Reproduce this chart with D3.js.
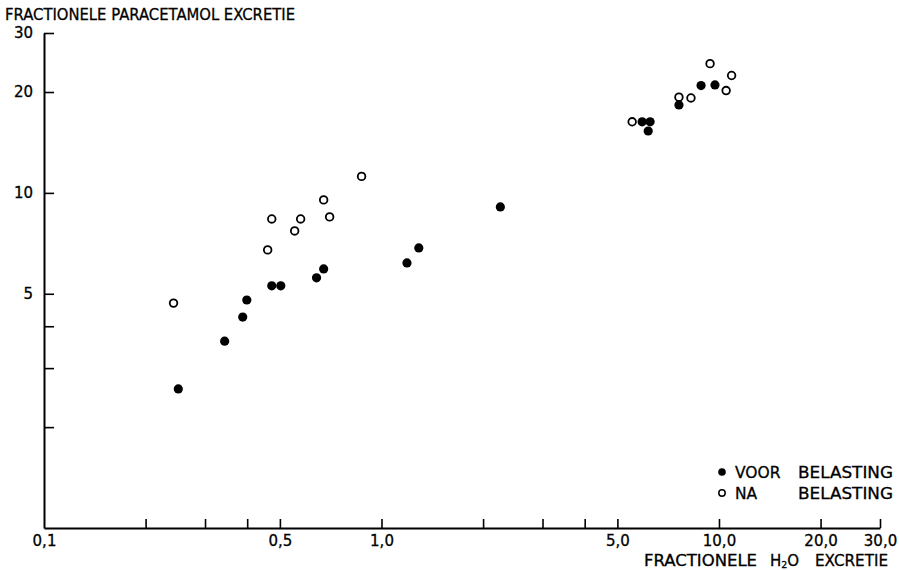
<!DOCTYPE html>
<html>
<head>
<meta charset="utf-8">
<script src="https://cdn.jsdelivr.net/npm/d3@7"></script>
<style>
  html, body { margin: 0; padding: 0; background: #fff; }
  svg { display: block; }
  text { font-family: "DejaVu Sans", "Liberation Sans", sans-serif; fill: #000; stroke: #000; stroke-width: 0.3; }
</style>
</head>
<body>
<svg id="chart" width="899" height="570"></svg>
<script>
// Fractional water excretion (x) vs fractional paracetamol excretion (y)
const voorX = [0.25, 0.343, 0.388, 0.399, 0.473, 0.503, 0.642, 0.674, 1.19, 1.29, 2.25,
               5.92, 6.25, 6.17, 7.61, 8.85, 9.73];
const voorY = [2.60, 3.61, 4.26, 4.79, 5.28, 5.28, 5.58, 5.93, 6.18, 6.85, 9.08,
               16.3, 16.3, 15.3, 18.3, 20.9, 21.0];

const naX = [0.242, 0.460, 0.473, 0.553, 0.576, 0.674, 0.702, 0.873,
             5.53, 7.61, 8.26, 10.5, 10.9, 9.41];
const naY = [4.69, 6.76, 8.36, 7.70, 8.36, 9.53, 8.48, 11.2,
             16.3, 19.3, 19.2, 20.2, 22.4, 24.3];

const xTicks = [0.1, 0.2, 0.3, 0.4, 0.5, 1, 2, 3, 4, 5, 10, 20, 30];
const xLabelValues = [0.1, 0.5, 1, 5, 10, 20, 30];
const xLabelTexts = ["0,1", "0,5", "1,0", "5,0", "10,0", "20,0", "30,0"];

const yTicks = [2, 3, 4, 5, 10, 20, 30];
const yLabelValues = [5, 10, 20, 30];
const yLabelTexts = ["5", "10", "20", "30"];

const legendLabels = ["VOOR", "NA"];
const legendSuffix = "BELASTING";

const svg = d3.select("#chart");

const x = d3.scaleLog().domain([0.1, 30]).range([44, 880]);
const y = d3.scaleLog().domain([1, 30]).range([528, 33]);

const xLab = new Map(xLabelValues.map((v, i) => [v, xLabelTexts[i]]));
const yLab = new Map(yLabelValues.map((v, i) => [v, yLabelTexts[i]]));

// x axis, ticks pointing inward
const gx = svg.append("g")
  .attr("transform", `translate(0,${y(1)})`)
  .call(d3.axisBottom(x)
    .tickValues(xTicks)
    .tickSizeInner(-9)
    .tickSizeOuter(0)
    .tickPadding(7)
    .tickFormat(d => xLab.get(d) || ""));

// y axis, ticks pointing inward
const gy = svg.append("g")
  .attr("transform", `translate(${x(0.1)},0)`)
  .call(d3.axisLeft(y)
    .tickValues(yTicks)
    .tickSizeInner(-10)
    .tickSizeOuter(0)
    .tickPadding(11)
    .tickFormat(d => yLab.get(d) || ""));

[gx, gy].forEach(g => {
  g.select(".domain").attr("stroke", "#000").attr("stroke-width", 2);
  g.selectAll(".tick line").attr("stroke", "#000").attr("stroke-width", 1.6);
  g.selectAll(".tick text").attr("font-size", 15).attr("fill", "#000")
    .attr("stroke", "#000").attr("stroke-width", 0.3)
    .attr("font-family", '"DejaVu Sans", sans-serif');
});
gx.selectAll(".tick").filter(d => d === 0.1).select("line").remove();

// Axis titles
svg.append("text")
  .attr("x", 5).attr("y", 20)
  .attr("font-size", 16)
  .attr("textLength", 290).attr("lengthAdjust", "spacingAndGlyphs")
  .text("FRACTIONELE PARACETAMOL EXCRETIE");

const xt = svg.append("g").attr("font-size", 15);
xt.append("text").attr("x", 644).attr("y", 565.5)
  .attr("textLength", 113).attr("lengthAdjust", "spacingAndGlyphs")
  .text("FRACTIONELE");
const h2o = xt.append("text").attr("x", 770).attr("y", 565.5);
h2o.append("tspan").text("H");
h2o.append("tspan").attr("font-size", 9.5).attr("dy", 2).text("2");
h2o.append("tspan").attr("dy", -2).text("O");
xt.append("text").attr("x", 815).attr("y", 565.5)
  .attr("textLength", 73).attr("lengthAdjust", "spacingAndGlyphs")
  .text("EXCRETIE");

// Data points
svg.append("g").selectAll("circle")
  .data(voorX.map((v, i) => [v, voorY[i]]))
  .join("circle")
  .attr("cx", d => x(d[0])).attr("cy", d => y(d[1]))
  .attr("r", 4.6).attr("fill", "#000");

svg.append("g").selectAll("circle")
  .data(naX.map((v, i) => [v, naY[i]]))
  .join("circle")
  .attr("cx", d => x(d[0])).attr("cy", d => y(d[1]))
  .attr("r", 3.8).attr("fill", "#fff")
  .attr("stroke", "#000").attr("stroke-width", 1.8);

// Legend
const leg = svg.append("g").attr("font-size", 15.5);
const rowY = [472, 493];
leg.append("circle").attr("cx", 722).attr("cy", rowY[0]).attr("r", 3.8).attr("fill", "#000");
leg.append("circle").attr("cx", 722).attr("cy", rowY[1]).attr("r", 3.2)
  .attr("fill", "#fff").attr("stroke", "#000").attr("stroke-width", 1.5);
legendLabels.forEach((t, i) => {
  leg.append("text").attr("x", 735).attr("y", rowY[i] + 6).text(t);
  leg.append("text").attr("x", 798).attr("y", rowY[i] + 6)
    .attr("textLength", 95).attr("lengthAdjust", "spacingAndGlyphs")
    .text(legendSuffix);
});
</script>
</body>
</html>
